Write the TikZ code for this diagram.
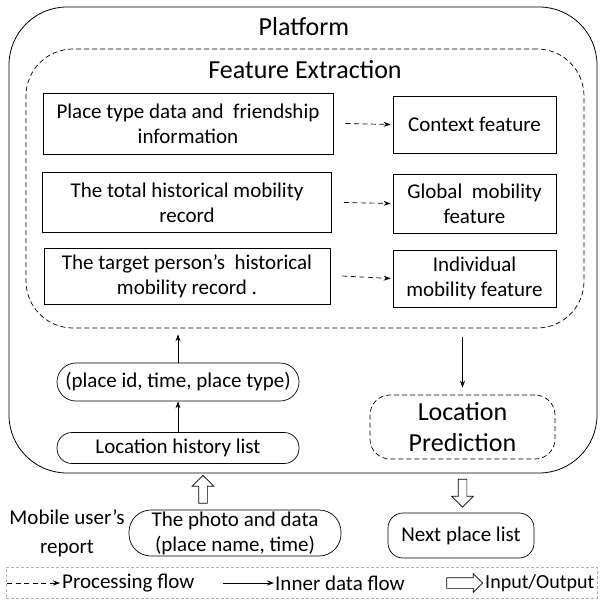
\documentclass[tikz,border=0pt]{standalone}
\usepackage{fontspec}
\setmainfont{Carlito}
\usetikzlibrary{arrows.meta,shapes.arrows}

\begin{document}
\begin{tikzpicture}[x=1pt, y=-1pt,
    txt/.style={inner sep=0pt, align=center, font=\fontsize{21}{25}\selectfont},
    box/.style={txt, draw, rectangle, line width=0.7pt},
    pill/.style={box, rounded corners=15pt},
    title/.style={inner sep=0pt, align=center, font=\fontsize{26}{31}\selectfont},
    dflow/.style={line width=0.7pt, dash pattern=on 5pt off 3.5pt, -{Stealth[length=7pt,width=5pt]}},
    iflow/.style={line width=0.7pt, -{Stealth[length=7pt,width=5pt]}},
    io/.style={draw, single arrow, single arrow head extend=6.5pt, minimum height=28pt, inner sep=4pt, line width=0.7pt}]
    \useasboundingbox (0,0) rectangle (599,601);

    % Platform frame and feature extraction frame
    \node[draw, line width=0.8pt, rounded corners=58pt, minimum width=588pt, minimum height=466pt] (pf) at (303,240) {};
    \node[title] (pftitle) at (304,27) {Platform};
    \node[draw, line width=0.7pt, dash pattern=on 5pt off 3pt, rounded corners=47pt, minimum width=558pt, minimum height=279pt] (fe) at (305,188.5) {};
    \node[title] (fetitle) at (305,70) {Feature Extraction};

    % Sources - left column
    \node[box, minimum width=290pt, minimum height=61pt] (src1) at (188,123.5) {Place type data and~ friendship\\information};
    \node[box, minimum width=289pt, minimum height=60pt] (src2) at (187,202.5) {The total historical mobility\\record};
    \node[box, minimum width=286pt, minimum height=56pt] (src3) at (187,276) {The target person’s~ historical\\mobility record .};

    % Features - right column
    \node[box, minimum width=163pt, minimum height=57pt] (ctx) at (474.5,124.5) {Context feature};
    \node[box, minimum width=163pt, minimum height=59pt] (glob) at (474.5,203.5) {Global~ mobility\\feature};
    \node[box, minimum width=163pt, minimum height=57pt] (indiv) at (474.5,278.5) {Individual\\mobility feature};

    % Data inside the platform
    \node[pill, rounded corners=19pt, minimum width=242pt, minimum height=38pt] (pid) at (178,382) {(place id, time, place type)};
    \node[pill, minimum width=242pt, minimum height=31pt] (lhl) at (178,448) {Location history list};
    \node[title, draw, line width=0.7pt, dash pattern=on 5pt off 3pt, rounded corners=20pt, minimum width=185pt, minimum height=64pt] (lp) at (462.5,427) {Location\\Prediction};

    % Outside the platform
    \node[pill, rounded corners=22pt, minimum width=212pt, minimum height=46pt] (photo) at (235,533) {The photo and data\\(place name, time)};
    \node[txt, font=\fontsize{21}{29}\selectfont] (user) at (67,533) {Mobile user’s\\report};
    \node[pill, minimum width=146pt, minimum height=45pt] (next) at (461,535.5) {Next place list};
    \node[io, shape border rotate=90] (in) at (203,491.5) {};
    \node[io, shape border rotate=270] (out) at (462.5,491) {};

    % Legend
    \node[draw, gray!60, dash pattern=on 3pt off 2pt, minimum width=591pt, minimum height=31pt] (legend) at (301.5,582.5) {};
    \coordinate (d1) at (7,583);
    \coordinate (d2) at (60,583);
    \node[txt, anchor=west] (dtxt) at (62,583) {Processing flow};
    \coordinate (i1) at (223,583);
    \coordinate (i2) at (274,583);
    \node[txt, anchor=west] (itxt) at (275,583) {Inner data flow};
    \node[io, minimum height=36pt, inner sep=5pt, single arrow head extend=4pt] (oarr) at (462,583) {};
    \node[txt, anchor=west, font=\fontsize{20}{25}\selectfont] (otxt) at (485,583) {Input/Output};

    % Connections
    \draw[dflow] ([xshift=12pt]src1.east) -- ([xshift=-2pt]ctx.west);
    \draw[dflow] ([xshift=12pt]src2.east) -- ([xshift=-2pt]glob.west);
    \draw[dflow] ([xshift=12pt]src3.east) -- ([xshift=-2pt]indiv.west);
    \draw[iflow] (lhl.north) -- (pid.south);
    \draw[iflow, shorten >=6pt] (pid.north) -- (pid.north |- fe.south);
    \draw[iflow, shorten <=9pt, shorten >=7pt] (lp.north |- fe.south) -- (lp.north);
    \draw[dflow] (d1) -- (d2);
    \draw[iflow] (i1) -- (i2);
\end{tikzpicture}
\end{document}
